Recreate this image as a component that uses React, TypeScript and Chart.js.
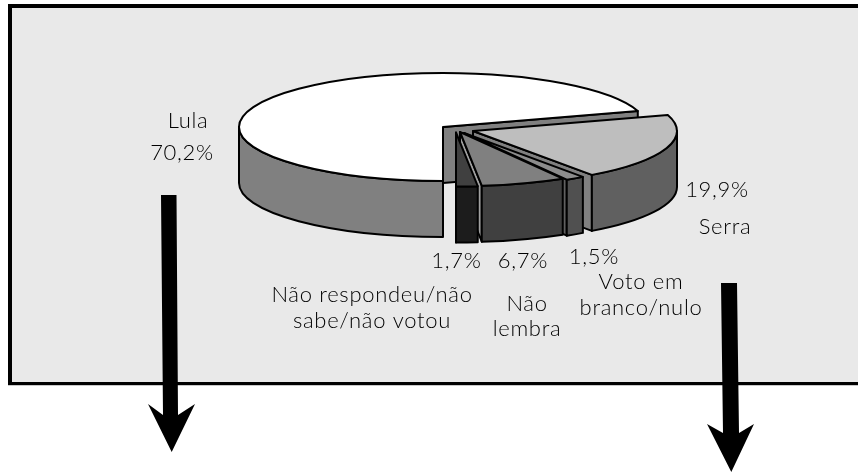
import React, { useEffect, useRef } from "react";
import { Chart, registerables } from "chart.js";

Chart.register(...registerables);

const categories = ["Lula", "Serra", "Voto em branco/nulo", "Não lembra", "Não respondeu/não sabe/não votou"];
const values = [70.2, 19.9, 1.5, 6.7, 1.7];
const valueLabels = ["70,2%", "19,9%", "1,5%", "6,7%", "1,7%"];
const nameLines = [["Lula"], ["Serra"], ["Voto em", "branco/nulo"], ["Não", "lembra"], ["Não respondeu/não", "sabe/não votou"]];

const topColors = ["#ffffff", "#bebebe", "#8c8c8c", "#808080", "#404040"];
const wallColors = ["#808080", "#606060", "#505050", "#404040", "#1c1c1c"];
const edgeColors = ["#808080", "#808080", "#606060", "#a0a0a0", "#1c1c1c"];

// Placement style of the tilted pie
const PIE = { cx: 443, cy: 127, rx: 204, ry: 54, depth: 56 };
const explodeX = [0, 30, 21, 17, 13];
const explodeY = [0, 4, 6, 5, 5.5];

const valuePos = [[182, 160], [717, 197], [594, 264], [523, 268], [456.5, 268]];
const namePos = [[188, 128], [725, 234], [641, 289], [527, 311], [372, 302]];
const nameLeading = [0, 0, 26, 25, 26];

const FONT = '300 22px "Lato", "Open Sans", sans-serif';

function arrow(ctx: CanvasRenderingContext2D, pts: number[][]) {
  ctx.beginPath();
  pts.forEach((p, i) => (i ? ctx.lineTo(p[0], p[1]) : ctx.moveTo(p[0], p[1])));
  ctx.closePath();
  ctx.fillStyle = "#000";
  ctx.fill();
}

const scenePlugin = {
  id: "scene",
  beforeDraw(chart: any) {
    const ctx = chart.ctx;
    ctx.save();
    ctx.fillStyle = "#c8c8c8";
    ctx.fillRect(8, 385, 850, 1);
    ctx.fillStyle = "#000";
    ctx.fillRect(8, 4, 850, 381);
    ctx.fillStyle = "#e9e9e9";
    ctx.fillRect(12, 8, 846, 374);
    ctx.restore();
  },
  beforeDatasetsDraw(chart: any) {
    const ctx: CanvasRenderingContext2D = chart.ctx;
    const arcs = chart.getDatasetMeta(0).data;
    const { rx, ry, depth } = PIE;
    ctx.save();
    ctx.lineWidth = 2;
    ctx.strokeStyle = "#000";
    ctx.lineJoin = "round";
    arcs.forEach((arc: any, i: number) => {
      const cx = PIE.cx + explodeX[i];
      const cy = PIE.cy + explodeY[i];
      const s = arc.startAngle;
      const e = arc.endAngle;
      const ex = cx + rx * Math.cos(e);
      const ey = cy + ry * Math.sin(e);
      // radial wall at the slice's closing edge
      ctx.beginPath();
      ctx.moveTo(cx, cy);
      ctx.lineTo(ex, ey);
      ctx.lineTo(ex, ey + depth);
      ctx.lineTo(cx, cy + depth);
      ctx.closePath();
      ctx.fillStyle = edgeColors[i];
      ctx.fill();
      ctx.stroke();
      // outer wall: only the front half of the rim can be seen
      [[0, Math.PI], [2 * Math.PI, 3 * Math.PI]].forEach(([a, b]) => {
        const from = Math.max(s, a);
        const to = Math.min(e, b);
        if (to <= from) return;
        ctx.beginPath();
        ctx.ellipse(cx, cy, rx, ry, 0, from, to);
        ctx.lineTo(cx + rx * Math.cos(to), cy + ry * Math.sin(to) + depth);
        ctx.ellipse(cx, cy + depth, rx, ry, 0, to, from, true);
        ctx.closePath();
        ctx.fillStyle = wallColors[i];
        ctx.fill();
        ctx.stroke();
      });
      // top face: the library's own arc, under the tilt transform
      ctx.save();
      ctx.translate(cx, cy);
      ctx.scale(rx / arc.outerRadius, ry / arc.outerRadius);
      ctx.translate(-arc.x, -arc.y);
      arc.draw(ctx);
      ctx.restore();
      ctx.beginPath();
      ctx.moveTo(cx, cy);
      ctx.ellipse(cx, cy, rx, ry, 0, s, e);
      ctx.closePath();
      ctx.stroke();
    });
    ctx.restore();
    return false;
  },
  afterDraw(chart: any) {
    const ctx: CanvasRenderingContext2D = chart.ctx;
    ctx.save();
    ctx.font = FONT;
    (ctx as any).letterSpacing = "0.7px";
    ctx.fillStyle = "#000";
    ctx.textAlign = "center";
    ctx.textBaseline = "alphabetic";
    categories.forEach((_, i) => {
      ctx.fillText(valueLabels[i], valuePos[i][0], valuePos[i][1]);
      nameLines[i].forEach((line, j) => {
        ctx.fillText(line, namePos[i][0], namePos[i][1] + j * nameLeading[i]);
      });
    });
    arrow(ctx, [[161, 195], [176.5, 195], [178, 415], [195, 404], [171.7, 452], [148, 404], [163, 415]]);
    arrow(ctx, [[721, 283], [737, 283], [739, 433], [754, 424], [731.3, 472], [707, 424], [723, 433]]);
    ctx.restore();
  },
};

export default function App() {
  const ref = useRef<HTMLCanvasElement>(null);
  useEffect(() => {
    const chart = new Chart(ref.current!, {
      type: "pie",
      data: {
        labels: categories,
        datasets: [{ data: values, backgroundColor: topColors, borderWidth: 0 }],
      },
      options: {
        responsive: false,
        animation: false,
        rotation: 180,
        plugins: { legend: { display: false }, tooltip: { enabled: false } },
      },
      plugins: [scenePlugin],
    } as any);
    return () => chart.destroy();
  }, []);
  return (
    <canvas
      ref={ref}
      width={858}
      height={472}
      style={{ position: "absolute", left: 0, top: 0, display: "block" }}
    />
  );
}
